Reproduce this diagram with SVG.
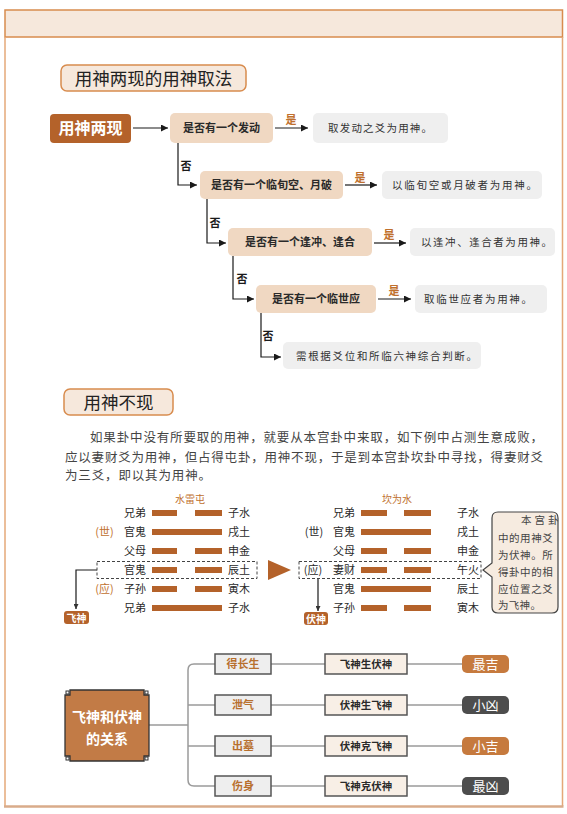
<svg xmlns="http://www.w3.org/2000/svg" width="567" height="814" viewBox="0 0 567 814">
<style>
text{font-family:"Noto Sans CJK SC","Noto Sans",sans-serif;}
.ttl{fill:#f6e8dc;stroke:#d88c4e;stroke-width:1.5;}
.ttlt{font-size:17.5px;fill:#222;text-anchor:middle;}
.q{fill:#f0d8c2;}
.qt{font-size:11px;font-weight:bold;fill:#2a2a2a;text-anchor:middle;}
.r{fill:#efefef;}
.rt{font-size:10.5px;fill:#333;}
.ln{stroke:#1a1a1a;stroke-width:1.2;fill:none;}
.yes{font-size:11px;font-weight:bold;fill:#c0702e;text-anchor:middle;}
.no{font-size:11px;font-weight:bold;fill:#1a1a1a;text-anchor:middle;}
.para{font-size:12.5px;fill:#444;}
.hl{font-size:11px;fill:#2a2a2a;text-anchor:middle;}
.ho{font-size:11px;fill:#c0702e;text-anchor:middle;}
.bar{fill:#b4622a;}
.dash{fill:none;stroke:#444;stroke-width:1;stroke-dasharray:3,2;}
.tag{fill:#b4622a;}
.tagt{font-size:10px;fill:#fff;text-anchor:middle;font-weight:bold;}
.hn{font-size:10px;fill:#c0702e;text-anchor:middle;}
.ct{font-size:10.5px;fill:#444;letter-spacing:0.3px;}
.gl{stroke:#9a9a9a;stroke-width:1.5;fill:none;}
.b1{fill:#eeeeee;stroke:#555;stroke-width:1.5;}
.b1t{font-size:11px;font-weight:bold;fill:#b8702e;text-anchor:middle;}
.b2{fill:#f8efe6;stroke:#555;stroke-width:1.5;}
.b2t{font-size:10.5px;font-weight:bold;fill:#2a2a2a;text-anchor:middle;}
.good{fill:#c67a3e;}
.bad{fill:#4d4d4d;}
.rest{font-size:13px;fill:#fff;text-anchor:middle;}
</style>
<defs>
<marker id="ah" viewBox="0 0 8 8" refX="8" refY="4" markerWidth="7" markerHeight="7" markerUnits="userSpaceOnUse" orient="auto"><path d="M0,0 L8,4 L0,8 z" fill="#1a1a1a"/></marker>
<marker id="ahs" viewBox="0 0 8 8" refX="8" refY="4" markerWidth="5" markerHeight="5" markerUnits="userSpaceOnUse" orient="auto"><path d="M0,0 L8,4 L0,8 z" fill="#333"/></marker>
</defs>
<rect width="567" height="814" fill="#fff"/>
<g id="frame">
<rect x="5" y="10" width="557.5" height="27" fill="#f6e8dc" stroke="#d88c4e" stroke-width="1.5"/>
<line x1="5" y1="37" x2="5" y2="806" stroke="#e4a878" stroke-width="1.5"/>
<line x1="562.5" y1="37" x2="562.5" y2="806" stroke="#e4a878" stroke-width="1.5"/>
<line x1="4" y1="806.5" x2="563.5" y2="806.5" stroke="#d9ab8a" stroke-width="2.5"/>
</g>
<g id="title1">
<rect class="ttl" x="61" y="65" width="185" height="26" rx="6"/>
<text class="ttlt" x="153.5" y="84.5">用神两现的用神取法</text>
</g>
<g id="connectors">
<path class="ln" d="M133,128 H168" marker-end="url(#ah)"/>
<path class="ln" d="M275,128 H308" marker-end="url(#ah)"/>
<path class="ln" d="M178,143 V185 H197" marker-end="url(#ah)"/>
<path class="ln" d="M345,185 H377" marker-end="url(#ah)"/>
<path class="ln" d="M207,199 V243 H226" marker-end="url(#ah)"/>
<path class="ln" d="M374,243 H406" marker-end="url(#ah)"/>
<path class="ln" d="M233,256 V299 H254" marker-end="url(#ah)"/>
<path class="ln" d="M378,299 H411" marker-end="url(#ah)"/>
<path class="ln" d="M261,313 V357 H281" marker-end="url(#ah)"/>
<text class="yes" x="291" y="124">是</text>
<text class="yes" x="360" y="182">是</text>
<text class="yes" x="389" y="239">是</text>
<text class="yes" x="394" y="295">是</text>
<text class="no" x="186" y="170">否</text>
<text class="no" x="215" y="227">否</text>
<text class="no" x="242" y="283">否</text>
<text class="no" x="268" y="340">否</text>
<path class="ln" d="M97,570 H76 V609" stroke="#333" stroke-width="1" marker-end="url(#ahs)"/>
<path class="ln" d="M318,578 V611" stroke="#333" stroke-width="1" marker-end="url(#ahs)"/>
<path class="gl" d="M149,725 H188"/>
<path class="gl" d="M215,664 H194 Q188,664 188,670 V780 Q188,786 194,786 H215"/>
<path class="gl" d="M188,705 H215 M188,746 H215"/>
<path class="gl" d="M271,664 H325 M271,705 H325 M271,746 H325 M271,786 H325"/>
<path class="gl" d="M407,664 H462 M407,705 H462 M407,746 H462 M407,786 H462"/>
</g>
<g id="start">
<rect x="50" y="114" width="81" height="29" rx="4" fill="#b4622a"/>
<text x="90.5" y="134" font-size="16" font-weight="bold" fill="#fff" text-anchor="middle">用神两现</text>
</g>
<g id="q1"><rect class="q" x="170" y="113" width="103" height="30" rx="5"/><text class="qt" x="221.5" y="132">是否有一个发动</text></g>
<g id="r1"><rect class="r" x="313" y="113" width="135" height="30" rx="5"/><text class="rt" x="328" y="132" textLength="104" lengthAdjust="spacing">取发动之爻为用神。</text></g>
<g id="q2"><rect class="q" x="200" y="171" width="143" height="28" rx="5"/><text class="qt" x="271.5" y="189">是否有一个临旬空、月破</text></g>
<g id="r2"><rect class="r" x="382" y="171" width="160" height="28" rx="5"/><text class="rt" x="392" y="189" textLength="145" lengthAdjust="spacing">以临旬空或月破者为用神。</text></g>
<g id="q3"><rect class="q" x="228" y="228" width="144" height="28" rx="5"/><text class="qt" x="300" y="246">是否有一个逢冲、逢合</text></g>
<g id="r3"><rect class="r" x="410" y="228" width="145" height="28" rx="5"/><text class="rt" x="421" y="246" textLength="131" lengthAdjust="spacing">以逢冲、逢合者为用神。</text></g>
<g id="q4"><rect class="q" x="256" y="285" width="120" height="28" rx="5"/><text class="qt" x="316" y="303">是否有一个临世应</text></g>
<g id="r4"><rect class="r" x="415" y="285" width="132" height="28" rx="5"/><text class="rt" x="424" y="303" textLength="108" lengthAdjust="spacing">取临世应者为用神。</text></g>
<g id="r5"><rect class="r" x="283" y="342" width="198" height="27" rx="5"/><text class="rt" x="296" y="360" textLength="181" lengthAdjust="spacing">需根据爻位和所临六神综合判断。</text></g>
<g id="title2">
<rect class="ttl" x="64" y="389" width="109" height="26" rx="6"/>
<text class="ttlt" x="118.5" y="408.5" font-size="18">用神不现</text>
</g>
<g id="paragraph">
<text class="para" x="90" y="442" textLength="453" lengthAdjust="spacing">如果卦中没有所要取的用神，就要从本宫卦中来取，如下例中占测生意成败，</text>
<text class="para" x="65" y="461.5" textLength="478" lengthAdjust="spacing">应以妻财爻为用神，但占得屯卦，用神不现，于是到本宫卦坎卦中寻找，得妻财爻</text>
<text class="para" x="65" y="480" textLength="146" lengthAdjust="spacing">为三爻，即以其为用神。</text>
</g>
<g id="hexLeft">
<text class="hn" x="190" y="503">水雷屯</text>
<text class="hl" x="135" y="517">兄弟</text><text class="hl" x="239" y="517">子水</text>
<rect class="bar" x="152" y="510" width="25" height="6"/><rect class="bar" x="195" y="510" width="27" height="6"/>
<text class="ho" x="104.5" y="536">(世)</text>
<text class="hl" x="135" y="536">官鬼</text><text class="hl" x="239" y="536">戌土</text>
<rect class="bar" x="152" y="529" width="70" height="6"/>
<text class="hl" x="135" y="555">父母</text><text class="hl" x="239" y="555">申金</text>
<rect class="bar" x="152" y="548" width="25" height="6"/><rect class="bar" x="195" y="548" width="27" height="6"/>
<rect class="dash" x="97" y="561.5" width="160" height="17"/>
<text class="hl" x="135" y="574">官鬼</text><text class="hl" x="239" y="574">辰土</text>
<rect class="bar" x="152" y="567" width="25" height="6"/><rect class="bar" x="195" y="567" width="27" height="6"/>
<text class="ho" x="104.5" y="593">(应)</text>
<text class="hl" x="135" y="593">子孙</text><text class="hl" x="239" y="593">寅木</text>
<rect class="bar" x="152" y="586" width="25" height="6"/><rect class="bar" x="195" y="586" width="27" height="6"/>
<text class="hl" x="135" y="612">兄弟</text><text class="hl" x="239" y="612">子水</text>
<rect class="bar" x="152" y="605" width="70" height="6"/>
</g>
<g id="feishen"><rect class="tag" x="64" y="611" width="25" height="13" rx="3"/><text class="tagt" x="76.5" y="621.5">飞神</text></g>
<g id="bigArrow"><path d="M268,560 L291,570 L268,580 Z" fill="#b4622a"/></g>
<g id="hexRight">
<text class="hn" x="397" y="503">坎为水</text>
<text class="hl" x="344" y="517">兄弟</text><text class="hl" x="468" y="517">子水</text>
<rect class="bar" x="361" y="510" width="26" height="6"/><rect class="bar" x="404" y="510" width="27" height="6"/>
<text class="hl" x="314" y="536">(世)</text>
<text class="hl" x="344" y="536">官鬼</text><text class="hl" x="468" y="536">戌土</text>
<rect class="bar" x="361" y="529" width="70" height="6"/>
<text class="hl" x="344" y="555">父母</text><text class="hl" x="468" y="555">申金</text>
<rect class="bar" x="361" y="548" width="26" height="6"/><rect class="bar" x="404" y="548" width="27" height="6"/>
<rect class="dash" x="299" y="561.5" width="182" height="17"/>
<text class="hl" x="313" y="574">(应)</text>
<text class="hl" x="344" y="574">妻财</text><text class="hl" x="468" y="574">午火</text>
<rect class="bar" x="361" y="567" width="26" height="6"/><rect class="bar" x="404" y="567" width="27" height="6"/>
<text class="hl" x="344" y="593">官鬼</text><text class="hl" x="468" y="593">辰土</text>
<rect class="bar" x="361" y="586" width="70" height="6"/>
<text class="hl" x="344" y="612">子孙</text><text class="hl" x="468" y="612">寅木</text>
<rect class="bar" x="361" y="605" width="26" height="6"/><rect class="bar" x="404" y="605" width="27" height="6"/>
</g>
<g id="fushen"><rect class="tag" x="304" y="612" width="24" height="13" rx="3"/><text class="tagt" x="316" y="622.5">伏神</text></g>
<g id="callout">
<path d="M498,512 H552 Q558,512 558,518 V607 Q558,613 552,613 H498 Q492,613 492,607 V577 L483,570 L492,563 V518 Q492,512 498,512 Z" fill="#f6ebe0" stroke="#444" stroke-width="1.2"/>
<text class="ct" x="521" y="524">本 宫 卦</text>
<text class="ct" x="498" y="541.5" textLength="55" lengthAdjust="spacing">中的用神爻</text>
<text class="ct" x="498" y="559" textLength="55" lengthAdjust="spacing">为伏神。所</text>
<text class="ct" x="498" y="576" textLength="55" lengthAdjust="spacing">得卦中的相</text>
<text class="ct" x="498" y="593" textLength="55" lengthAdjust="spacing">应位置之爻</text>
<text class="ct" x="498" y="609">为飞神。</text>
</g>
<g id="center">
<path d="M70,690 H144 V695 H149 V756 H144 V761 H70 V756 H65 V695 H70 Z" fill="#c27b46" stroke="#333" stroke-width="1.3"/>
<rect x="66" y="691" width="3" height="3" fill="none" stroke="#333" stroke-width="1"/>
<rect x="145" y="691" width="3" height="3" fill="none" stroke="#333" stroke-width="1"/>
<rect x="66" y="757" width="3" height="3" fill="none" stroke="#333" stroke-width="1"/>
<rect x="145" y="757" width="3" height="3" fill="none" stroke="#333" stroke-width="1"/>
<text x="107" y="722" font-size="14" font-weight="bold" fill="#fff" text-anchor="middle">飞神和伏神</text>
<text x="107" y="744" font-size="14" font-weight="bold" fill="#fff" text-anchor="middle">的关系</text>
</g>
<g id="cond1"><rect class="b1" x="215" y="654" width="56" height="20"/><text class="b1t" x="243" y="668">得长生</text></g>
<g id="cond2"><rect class="b1" x="215" y="695" width="56" height="20"/><text class="b1t" x="243" y="709">泄气</text></g>
<g id="cond3"><rect class="b1" x="215" y="736" width="56" height="20"/><text class="b1t" x="243" y="750">出墓</text></g>
<g id="cond4"><rect class="b1" x="215" y="776" width="56" height="20"/><text class="b1t" x="243" y="790">伤身</text></g>
<g id="rel1"><rect class="b2" x="325" y="654" width="82" height="20"/><text class="b2t" x="366" y="668">飞神生伏神</text></g>
<g id="rel2"><rect class="b2" x="325" y="695" width="82" height="20"/><text class="b2t" x="366" y="709">伏神生飞神</text></g>
<g id="rel3"><rect class="b2" x="325" y="736" width="82" height="20"/><text class="b2t" x="366" y="750">伏神克飞神</text></g>
<g id="rel4"><rect class="b2" x="325" y="776" width="82" height="20"/><text class="b2t" x="366" y="790">飞神克伏神</text></g>
<g id="res1"><rect class="good" x="462" y="655" width="47" height="18" rx="5"/><text class="rest" x="485.5" y="668.5">最吉</text></g>
<g id="res2"><rect class="bad" x="462" y="696" width="47" height="18" rx="5"/><text class="rest" x="485.5" y="709.5">小凶</text></g>
<g id="res3"><rect class="good" x="462" y="737" width="47" height="18" rx="5"/><text class="rest" x="485.5" y="750.5">小吉</text></g>
<g id="res4"><rect class="bad" x="462" y="777" width="47" height="18" rx="5"/><text class="rest" x="485.5" y="790.5">最凶</text></g>
</svg>
